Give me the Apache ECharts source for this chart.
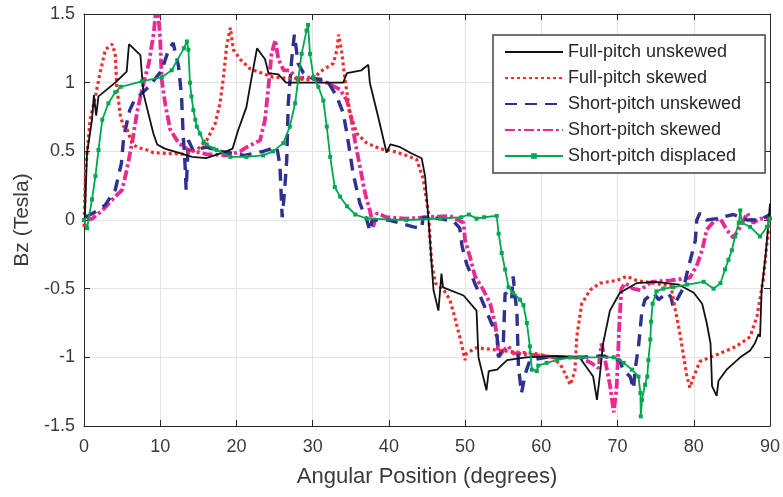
<!DOCTYPE html>
<html>
<head>
<meta charset="utf-8">
<script src="https://cdn.jsdelivr.net/npm/echarts@6/dist/echarts.min.js"></script>
<style>
  html, body { margin: 0; padding: 0; background: #fff; }
  #chart { width: 783px; height: 497px; }
</style>
</head>
<body>
<div id="chart"></div>
<script>
// Full-pitch unskewed (black solid)
const fpuX = [0.1, 0.4, 1.05, 1.3, 1.6, 1.9, 4.1, 5.6, 5.9, 7.4, 7.8, 9.1, 9.6, 10.6, 14.2, 16, 18.7, 19.5, 20.2, 21.3, 22, 22.7, 23.75, 24.2, 25.5, 26.5, 34, 34.5, 36.4, 37.3, 37.5, 38.6, 39.7, 40.2, 41.5, 42.8, 44.3, 44.75, 45.2, 45.85, 46.5, 46.9, 47.1, 49.8, 51.5, 51.75, 52.8, 53.1, 54.2, 55.5, 58, 62, 65, 66.8, 67.3, 67.7, 68.1, 69, 70.3, 72.5, 75, 78, 80, 81.1, 81.7, 82.2, 82.4, 83, 83.25, 84.3, 86.1, 87.4, 88, 88.5, 88.7, 88.9, 89.4, 89.8, 90];
const fpuY = [0, 0.49, 0.73, 0.91, 0.76, 0.9, 1.0, 1.08, 1.28, 1.2, 0.92, 0.63, 0.55, 0.52, 0.46, 0.45, 0.5, 0.52, 0.65, 0.82, 1.04, 1.25, 1.17, 1.07, 1.06, 1.0, 1.0, 1.07, 1.09, 1.13, 1.0, 0.75, 0.49, 0.55, 0.53, 0.49, 0.45, 0.32, 0, -0.51, -0.66, -0.39, -0.49, -0.55, -0.66, -1.0, -1.24, -1.1, -1.09, -1.02, -1.0, -0.99, -1.0, -1.14, -1.31, -1.12, -0.9, -0.66, -0.53, -0.46, -0.45, -0.47, -0.53, -0.61, -0.75, -0.9, -1.21, -1.28, -1.17, -1.09, -1.0, -0.95, -0.9, -0.83, -0.85, -0.51, -0.27, -0.02, 0.12];

// Full-pitch skewed (red dotted)
const fpsX = [0, 0.2, 0.8, 1.5, 2.1, 2.8, 3.7, 4.1, 4.3, 4.8, 5.2, 5.6, 6.3, 6.95, 8.3, 9.1, 13, 14.8, 16.1, 17.2, 17.85, 18.3, 18.7, 19.2, 19.6, 20.5, 21.8, 23.3, 24.8, 29.7, 30.1, 31, 32.7, 33.2, 33.4, 33.8, 34.25, 34.9, 35.8, 37.1, 38.8, 40.6, 42.3, 43.65, 44.5, 45.2, 45.6, 46.1, 47.2, 48, 48.5, 49.3, 50, 50.2, 51.5, 56.3, 59, 61.6, 62.7, 63.8, 64.4, 64.65, 65.3, 66.4, 67.7, 69.9, 71.2, 72.5, 74.7, 77, 77.6, 78.2, 79.1, 79.5, 80, 80.8, 83.5, 85.6, 87.4, 88.3, 89.1, 89.6, 90];
const fpsY = [-0.05, 0.36, 0.73, 0.9, 1.07, 1.24, 1.28, 1.21, 0.97, 0.75, 0.68, 0.67, 0.56, 0.53, 0.51, 0.49, 0.48, 0.51, 0.58, 0.7, 0.85, 1.04, 1.26, 1.4, 1.24, 1.17, 1.1, 1.07, 1.04, 1.02, 1.03, 1.08, 1.14, 1.24, 1.35, 1.23, 1.02, 0.78, 0.63, 0.56, 0.52, 0.5, 0.47, 0.44, 0.3, 0.05, -0.31, -0.46, -0.51, -0.58, -0.68, -0.85, -1.02, -0.97, -0.93, -0.96, -0.97, -1.0, -1.07, -1.2, -1.1, -0.85, -0.61, -0.51, -0.46, -0.44, -0.41, -0.44, -0.46, -0.48, -0.66, -0.83, -1.14, -1.22, -1.14, -1.03, -0.97, -0.92, -0.85, -0.7, -0.44, -0.17, 0.02];

// Short-pitch unskewed (blue dashed)
const spuX = [0.2, 1.5, 2.8, 4.1, 4.9, 5.2, 6, 6.6, 8.5, 10.2, 11.1, 11.7, 12.4, 12.8, 13.0, 13.25, 13.4, 13.7, 14.3, 16, 18, 21, 23.5, 25.3, 25.7, 26, 26.3, 26.6, 26.8, 27.25, 27.6, 28.1, 28.8, 30, 31.85, 33.15, 34, 34.5, 35.3, 36.2, 37.1, 37.5, 37.8, 40, 43.2, 44.3, 44.5, 46.7, 48.5, 49.3, 49.6, 50.2, 51.5, 52.4, 53.3, 54.2, 54.4, 55, 55.25, 56.1, 56.3, 56.8, 57, 57.4, 57.9, 58.5, 60.7, 65, 68, 70.3, 70.7, 71.65, 72.1, 72.3, 72.75, 73, 73.2, 73.6, 74.7, 75.4, 76.5, 77, 77.3, 78, 78.7, 79.1, 79.55, 80.2, 80.4, 80.8, 81.7, 83, 85.2, 87, 88.7, 90];
const spuY = [0.02, 0.06, 0.11, 0.22, 0.41, 0.6, 0.8, 0.87, 0.97, 1.09, 1.24, 1.29, 1.12, 0.9, 0.63, 0.41, 0.22, 0.58, 0.51, 0.53, 0.5, 0.47, 0.5, 0.53, 0.4, 0.02, 0.2, 0.44, 0.85, 1.17, 1.35, 1.14, 1.07, 1.03, 1.02, 0.9, 0.78, 0.63, 0.34, 0.12, 0, -0.08, 0, 0, -0.05, -0.06, 0.02, 0.01, -0.01, -0.06, -0.19, -0.32, -0.49, -0.61, -0.73, -0.85, -1.0, -0.92, -0.53, -0.58, -0.41, -0.68, -1.07, -1.26, -1.12, -1.02, -1.0, -1.0, -0.99, -1.02, -1.09, -1.14, -1.23, -1.09, -0.92, -0.78, -0.66, -0.58, -0.53, -0.58, -0.53, -0.56, -0.63, -0.56, -0.49, -0.39, -0.29, -0.15, 0, 0.05, 0, 0.01, 0.04, 0, 0, 0.04];

// Short-pitch skewed (magenta dash-dot)
const spsX = [0.4, 1.1, 2.4, 4.1, 5, 5.6, 6.3, 6.95, 7.6, 8.5, 9.15, 9.6, 10, 10.2, 10.7, 11.3, 12.4, 13.7, 16, 19, 20.5, 21.35, 23.1, 23.75, 24.2, 24.6, 25.1, 25.5, 26.2, 27, 27.9, 29.2, 31.85, 33.6, 34.5, 35.1, 35.6, 36.2, 36.9, 37.5, 37.95, 38.4, 39.7, 42.3, 45, 48, 49.8, 50, 50.65, 51.3, 52.4, 53.3, 53.9, 54.2, 54.4, 55, 55.7, 56.3, 58.5, 62, 65, 66.5, 67.5, 67.9, 68.3, 69, 69.5, 69.9, 70.2, 70.5, 71, 72, 73, 74.5, 77, 79.5, 80.4, 81.1, 81.7, 82.8, 83.5, 84.3, 85.2, 86.1, 87, 87.8, 88.7, 90];
const spsY = [0, 0.01, 0.07, 0.17, 0.22, 0.36, 0.56, 0.78, 0.95, 1.14, 1.36, 1.62, 1.31, 1.02, 0.83, 0.66, 0.56, 0.51, 0.48, 0.47, 0.5, 0.53, 0.58, 0.73, 0.97, 1.21, 1.31, 1.17, 1.09, 1.09, 1.03, 1.04, 1.0, 0.95, 0.87, 0.73, 0.56, 0.39, 0.19, 0.07, -0.05, 0.05, 0.02, 0.01, 0.02, 0.03, -0.02, -0.15, -0.27, -0.41, -0.51, -0.61, -0.75, -0.85, -1.0, -0.95, -0.92, -0.97, -0.98, -1.0, -1.0, -1.04, -1.08, -0.9, -1.0, -1.2, -1.4, -1.2, -0.8, -0.5, -0.46, -0.5, -0.51, -0.45, -0.44, -0.42, -0.33, -0.22, -0.07, 0, 0.01, -0.07, -0.13, -0.05, 0.05, -0.02, 0.01, 0.01];

// Short-pitch displaced (green, square markers)
const spdX = [0, 0.4, 1.05, 1.5, 1.9, 2.4, 3.2, 4.1, 4.8, 7.6, 10.2, 11.5, 13.1, 13.5, 13.7, 13.9, 14.1, 14.35, 14.6, 14.8, 15.2, 15.7, 16.1, 17, 17.4, 19.2, 21.3, 23.5, 24.8, 26.15, 27, 27.7, 28.1, 28.55, 29.2, 29.4, 29.65, 30.1, 30.75, 31.4, 31.85, 32.3, 32.9, 33.6, 34.5, 35.6, 37.1, 42.3, 46.7, 49.5, 50.5, 51.5, 52.5, 54.15, 54.4, 54.8, 55.25, 55.7, 56.3, 57.2, 57.65, 58.1, 58.5, 58.75, 59.4, 59.6, 60.7, 62, 63.8, 65.1, 69.5, 70.8, 71.9, 72.75, 73, 73.05, 73.2, 73.6, 73.9, 74.05, 74.3, 74.4, 74.6, 75.1, 76, 77.3, 79.1, 81.3, 82.6, 83.5, 84.1, 84.55, 85, 85.4, 85.9, 86.1, 86.3, 87.4, 88.7, 89.6, 90];
const spdY = [0, -0.06, 0.15, 0.32, 0.51, 0.73, 0.85, 0.93, 0.97, 1.01, 1.04, 1.09, 1.25, 1.3, 1.24, 1.0, 0.9, 0.8, 0.73, 0.68, 0.63, 0.57, 0.55, 0.52, 0.51, 0.46, 0.46, 0.47, 0.5, 0.56, 0.68, 0.85, 1.02, 1.21, 1.38, 1.42, 1.21, 1.04, 0.97, 0.87, 0.68, 0.46, 0.24, 0.17, 0.1, 0.04, 0.01, 0, 0.01, 0.02, 0.04, 0.01, 0.02, 0.03, -0.1, -0.24, -0.36, -0.49, -0.53, -0.58, -0.62, -0.75, -0.92, -1.09, -1.1, -1.06, -1.04, -1.02, -1.0, -1.0, -1.0, -1.04, -1.09, -1.14, -1.26, -1.43, -1.31, -1.2, -1.14, -1.02, -0.87, -0.74, -0.61, -0.52, -0.5, -0.49, -0.47, -0.45, -0.5, -0.46, -0.36, -0.29, -0.22, -0.12, -0.02, 0.07, -0.02, -0.05, -0.12, -0.05, 0.01];

const xTicks = { min: 0, max: 90, interval: 10 };
const yTicks = { min: -1.5, max: 1.5, interval: 0.5 };
const seriesNames = ["Full-pitch unskewed", "Full-pitch skewed", "Short-pitch unskewed", "Short-pitch skewed", "Short-pitch displaced"];

function pairs(xs, ys) {
  return xs.map((x, i) => [x, ys[i]]);
}

const font = "'Liberation Sans', Arial, Helvetica, sans-serif";
const textColor = "#262626";
const labelColor = "#3a3a3a";
const gridColor = "#e1e4ea";

const chart = echarts.init(document.getElementById("chart"));

const baseX = {
  type: "value",
  min: xTicks.min,
  max: xTicks.max,
  interval: xTicks.interval,
  axisLine: { show: true, onZero: false, lineStyle: { color: textColor, width: 1 } },
  axisTick: { show: true, inside: true, length: 6, lineStyle: { color: textColor } },
};
const baseY = {
  type: "value",
  min: yTicks.min,
  max: yTicks.max,
  interval: yTicks.interval,
  axisLine: { show: true, onZero: false, lineStyle: { color: textColor, width: 1 } },
  axisTick: { show: true, inside: true, length: 6, lineStyle: { color: textColor } },
};

const option = {
  animation: false,
  backgroundColor: "#fff",
  grid: { left: 84, right: 13, top: 14, bottom: 71 },
  legend: {
    orient: "vertical",
    left: 493,
    top: 35,
    padding: [8, 24, 8, 11],
    itemWidth: 58,
    itemHeight: 7,
    itemGap: 8,
    borderColor: "#444",
    borderWidth: 1.5,
    backgroundColor: "#fff",
    textStyle: { fontFamily: font, fontSize: 18, color: textColor },
    data: seriesNames.map((n, i) =>
      i < 4 ? { name: n, itemStyle: { opacity: 0 } } : { name: n }
    ),
  },
  xAxis: [
    Object.assign({}, baseX, {
      position: "bottom",
      name: "Angular Position (degrees)",
      nameLocation: "middle",
      nameGap: 40,
      nameTextStyle: { fontFamily: font, fontSize: 22, color: labelColor },
      axisLabel: { fontFamily: font, fontSize: 18, color: labelColor, margin: 12 },
      splitLine: { show: true, lineStyle: { color: gridColor, width: 1 } },
    }),
    Object.assign({}, baseX, {
      position: "top",
      axisLabel: { show: false },
      splitLine: { show: false },
    }),
  ],
  yAxis: [
    Object.assign({}, baseY, {
      position: "left",
      name: "Bz (Tesla)",
      nameLocation: "middle",
      nameGap: 51,
      nameTextStyle: { fontFamily: font, fontSize: 21, color: labelColor },
      axisLabel: { fontFamily: font, fontSize: 18, color: labelColor, margin: 9 },
      splitLine: { show: true, lineStyle: { color: gridColor, width: 1 } },
    }),
    Object.assign({}, baseY, {
      position: "right",
      axisLabel: { show: false },
      splitLine: { show: false },
    }),
  ],
  series: [
    {
      name: seriesNames[0],
      type: "line",
      symbol: "none",
      data: pairs(fpuX, fpuY),
      lineStyle: { color: "#111", width: 1.8 },
      itemStyle: { color: "#111" },
      z: 5,
    },
    {
      name: seriesNames[1],
      type: "line",
      symbol: "none",
      data: pairs(fpsX, fpsY),
      lineStyle: { color: "#f22c2c", width: 3.2, type: [3, 3] },
      itemStyle: { color: "#f22c2c" },
      z: 4,
    },
    {
      name: seriesNames[2],
      type: "line",
      symbol: "none",
      data: pairs(spuX, spuY),
      lineStyle: { color: "#2e3192", width: 3.4, type: [12, 8] },
      itemStyle: { color: "#2e3192" },
      z: 3,
    },
    {
      name: seriesNames[3],
      type: "line",
      symbol: "none",
      data: pairs(spsX, spsY),
      lineStyle: { color: "#ec2891", width: 3.8, type: [10, 3, 3, 3] },
      itemStyle: { color: "#ec2891" },
      z: 2,
    },
    {
      name: seriesNames[4],
      type: "line",
      symbol: "rect",
      symbolSize: 4,
      showAllSymbol: true,
      data: pairs(spdX, spdY),
      lineStyle: { color: "#00a650", width: 1.8 },
      itemStyle: { color: "#00a650" },
      z: 6,
    },
  ],
};

chart.setOption(option);
</script>
</body>
</html>
